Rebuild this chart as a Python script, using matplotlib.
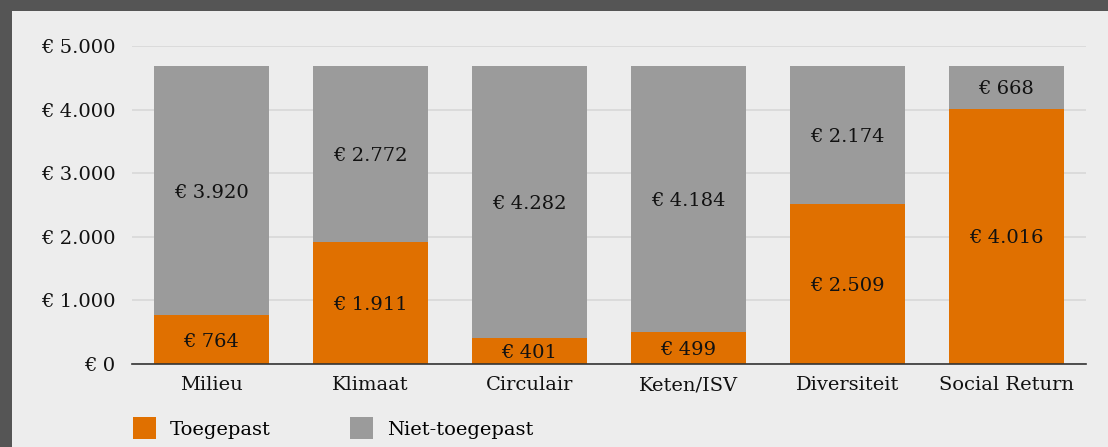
import matplotlib
matplotlib.use("Agg")
import matplotlib.pyplot as plt
from matplotlib.patches import Rectangle, Patch
import numpy as np

categories = ["Milieu", "Klimaat", "Circulair", "Keten/ISV", "Diversiteit", "Social Return"]
toegepast = [764, 1911, 401, 499, 2509, 4016]
niet_toegepast = [3920, 2772, 4282, 4184, 2174, 668]
yticks = [0, 1000, 2000, 3000, 4000, 5000]

orange = "#e07000"
grey = "#9b9b9b"
panel = "#ededed"
border = "#555555"


def euro(v):
    return "€ " + f"{v:,}".replace(",", ".")


plt.rcParams["font.family"] = ["DejaVu Serif"]
plt.rcParams["font.size"] = 14

fig = plt.figure(figsize=(11.08, 4.47), dpi=100)
fig.patch.set_facecolor(border)
fig.add_artist(Rectangle((12 / 1108, 0), 1, 1 - 11 / 447, transform=fig.transFigure,
                         facecolor=panel, edgecolor="none", zorder=-1))

ax = fig.add_axes([132 / 1108, 1 - 364 / 447, (1086 - 132) / 1108, (364 - 46) / 447])
ax.set_facecolor(panel)
ax.set_zorder(1)

x = np.arange(len(categories))
ax.bar(x, toegepast, width=0.72, color=orange, zorder=2)
ax.bar(x, niet_toegepast, width=0.72, bottom=toegepast, color=grey, zorder=2)

for i in range(len(categories)):
    ax.text(x[i], toegepast[i] / 2, euro(toegepast[i]), ha="center", va="center_baseline",
            color="#111111", zorder=3)
    ax.text(x[i], toegepast[i] + niet_toegepast[i] / 2, euro(niet_toegepast[i]),
            ha="center", va="center_baseline", color="#111111", zorder=3)

ax.set_xlim(-0.5, len(categories) - 0.5)
ax.set_ylim(0, 5000)
ax.set_yticks(yticks)
ax.set_yticklabels([euro(v) for v in yticks])
ax.set_xticks(x)
ax.set_xticklabels(categories)
ax.tick_params(axis="both", length=0, colors="#111111")
ax.tick_params(axis="y", pad=12)
ax.tick_params(axis="x", pad=9)
ax.grid(axis="y", color="#d8d8d8", linewidth=1.2, zorder=1)
for s in ["top", "right", "left"]:
    ax.spines[s].set_visible(False)
ax.spines["bottom"].set_color("#333333")
ax.spines["bottom"].set_linewidth(1.2)
ax.spines["bottom"].set_zorder(4)

handles = [Patch(facecolor=orange, label="Toegepast"),
           Patch(facecolor=grey, label="Niet-toegepast")]
fig.legend(handles=handles, loc="lower left", bbox_to_anchor=(115 / 1108, -0.022), ncol=2,
           frameon=False, handlelength=1.2, handleheight=1.4, handletextpad=0.7,
           columnspacing=4.1, fontsize=14)

fig.savefig("out.png", dpi=100, facecolor=fig.get_facecolor())
